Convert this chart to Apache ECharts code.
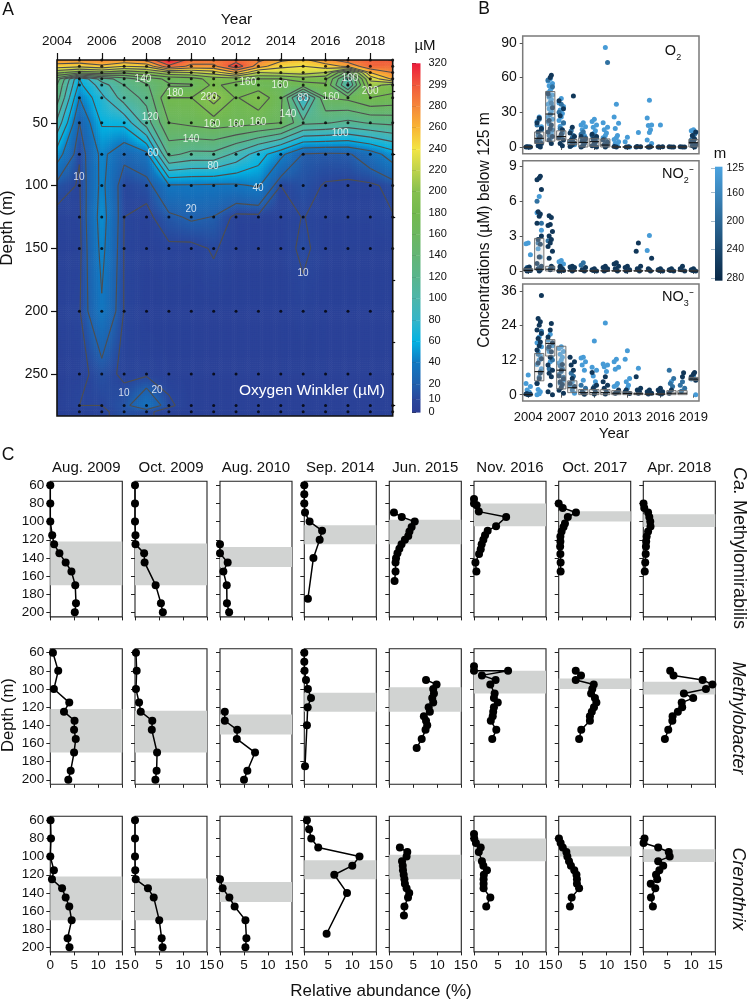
<!DOCTYPE html>
<html>
<head>
<meta charset="utf-8">
<title>Oxygen and methanotrophs</title>
<script src="https://cdn.jsdelivr.net/npm/echarts@6/dist/echarts.min.js"></script>
<style>
  body { margin: 0; background: #fff; }
  #main { width: 747px; height: 1000px; }
</style>
</head>
<body>
<div id="main"></div>
<script>
const FONT = '"Liberation Sans", Arial, sans-serif';

// panel A: oxygen (uM), one row per depth, one column per year
const oxyYears = [2004,2005,2006,2007,2008,2009,2010,2011,2012,2013,2014,2015,2016,2017,2018,2019];
const oxyDepths = [0,5,10,15,20,30,50,75,100,125,150,200,250,275,280,284];
const oxygen = [
  [275,275,280,275,285,322,290,290,290,285,265,255,275,290,295,300],
  [250,245,255,240,245,295,275,275,312,270,245,240,250,265,295,290],
  [205,190,195,185,195,215,220,230,260,220,225,230,220,150,260,280],
  [150,60,110,130,150,165,170,190,190,180,180,190,185,105,225,265],
  [140,55,90,120,138,158,158,185,170,168,165,170,178,95,210,190],
  [130,40,75,110,125,180,180,210,178,195,165,75,160,165,180,175],
  [95,20,62,65,110,160,165,170,168,165,160,125,122,115,122,125],
  [50,10.5,45,25,35,125,115,115,95,70,45,19,17,18,30,50],
  [15,9,45,10.5,14,38,38,37,37,42,10,14,9,8,8,13],
  [7,8,48,10,7,17,22,19.6,7,7,7,10.3,7,7,7,9.5],
  [6,7,45,9.5,6,8,7,11,6,6,6,12,6,6,6,6],
  [6,9,38,9.5,5,5,5,5,5,5,5,7,5,5,5,5],
  [5,7,14,8,8,6,5,5,5,5,5,5,5,5,5,5],
  [5,10,10,15,35,12,5,5,5,5,5,5,5,5,5,5],
  [5,6,8,14,12,6,5,5,5,5,5,5,5,5,5,5],
  [5,6,8,14,12,6,5,5,5,5,5,5,5,5,5,5]
];
const stationYears = oxyYears.slice(1);
const stationDepths = oxyDepths.slice(0, -1);
const contourLevels = [10,20,40,60,80,100,120,140,160,180,200,220,240,260,280,299];
const contourLabels = [
  [2007.84,15.5,'140'],[2009.27,26.6,'180'],[2010.79,29.8,'200'],[2012.53,17.9,'160'],
  [2013.96,20.3,'160'],[2014.99,30.6,'80'],[2016.24,29.8,'160'],[2017.09,14.7,'100'],
  [2017.99,25,'200'],[2014.32,43.3,'140'],[2008.16,45.7,'120'],[2010.93,51.3,'160'],
  [2012,51.3,'160'],[2012.98,49.7,'160'],[2009.99,63.2,'140'],[2016.65,58.4,'100'],
  [2008.29,74.3,'60'],[2010.97,84.6,'80'],[2012.98,102.1,'40'],[2004.98,93.4,'10'],
  [2009.99,118.8,'20'],[2014.99,169.7,'10'],[2006.99,265,'10'],[2008.47,262.7,'20']
];

// colour bar of panel A
const heatLevels = [0,10,20,40,60,80,100,120,140,160,180,200,220,240,260,280,299,320];
const heatColors = ['#2b3c93','#2a479c','#2160ad','#1179c2','#03b2e2','#35b5c9','#4db6aa','#59b58d',
  '#63b575','#6cb760','#73b94f','#86c04f','#bdd24c','#f2e544','#f9b433','#f5873a','#f15a3c','#ec1c3c'];
const heatBarPos = [0,13,28,50,71,92,114,135,157,178,199,221,242,263,285,306,327,349];

// panel B: one list per year, split by rough sampling depth (m)
const boxYears = oxyYears;
const depthLight = 135, depthMid = 190, depthDark = 265;
const o2Light = [[],[26,22,17.5,12,7],[59,57,55,53,51,49,47,45,43,41,39,37,35,33,31,29,26,24,20,12,7],[42,38,35,32,29,26,23,20.5,18,14],[7,4,2],[21,19,17.5,15,10],[24,22,19,17,14,12],[86,21,17,15,12,10,8],[37,26,20.5,16,10,8,6.5,4.5,3,1],[8.5,4.6,0],[12.5],[40.5,25,19,18.5,15,12.5,6,3],[19],[],[],[15,14,12.5,9.5]];
const o2Mid = [[0],[24,19,15,10,4],[58,52,44,38,28,22,15,10],[37,30,21,16,12,9],[14,10,8,5,3,1],[13,11,8,6,4,2],[10,8,6,4,2],[73,7,5,3],[],[],[],[],[],[],[],[11,8,6]];
const o2Dark = [[0,0,0.3,0.1],[25,21,16,13,9,7.5,5,3,1,0],[62,60,46,34,23,19,16,13,9,6,3],[40,33,27,15,11,8,6,3,1],[44,17,12,9,6,4,2,0.5],[9,7,5,3,1,0],[11,9,7,5,3,1,0],[6,4,2,1,0],[0,0.5],[0,0.2],[0,0.2,0.4],[0,0.3,0.1],[0,0.3,0.1],[0,0.2,0.1],[0,0.2,0.1],[13,10,7,5,4,2,1,0]];
const no2Light = [[2.4,2.35,1.4],[6.4,5,3.5,1.9,1.2,0.3],[0.2],[0.9,0.8,0.6],[],[],[],[],[],[],[],[3.05,1.75],[],[],[],[]];
const no2Mid = [[0.3],[6,4.1,2.4],[2.6,0.3],[],[],[0.7,0.5],[],[],[],[],[],[],[],[],[],[]];
const no2Dark = [[0.35,0.25,0.15,0.05,0,0.1],[8.15,8,7.85,7,5.1,4.9,4.7,4.1,3,2.7,2.3,1.2,0.65,0.4,0.2,0.1,0],[4.75,4.6,4,3.9,3.4,3,2.7,2.4,2.1,1.7,1.1,0.4,0.1],[0.4,0.2,0.1,0,0.05,0.3],[0.4,0.35,0.3,0.2,0.1,0],[0.3,0.1,0],[0.2,0.1,0,0.05],[0.4,0.3,0.2,0,0.1],[0.7,0.6,0.4,0.2,0,0.1],[0.4,0.3,0.1,0],[2.4,1.7,0.4,0.2,0,0.1],[1.1,0.2,0,0.1],[0.2,0.1,0,0.05],[0.2,0.1,0,0.05],[0.4,0.2,0,0.1],[0.2,0.1,0,0.05]];
const no3Light = [[6.8,3.9,2.8,1.6,0.8],[20,18,16.6,15,13.5,12,10.5,9,1.8,1,0.3,0],[21,19,17,15,13,11.4],[16.6,16,15,14,13,12,11,5],[4.5,3.3,0.5],[13,12.7,11.4,10.3,8.5,5],[18.6,9.5,8.5,6.5,4.5],[24.9,10.6,10.3,9.7,8],[12.3,11.4,9.5,8.8,3.9,3.3,2.8],[15.2,12.3,5.6,4.5,3.3,2.2],[9.2],[],[],[4.6],[],[6.5,5.4,0]];
const no3Mid = [[],[22,14,8,6,4],[16,12,9],[10,9,8,7,6,4],[7.4,6.4,1.6],[3.3,2.2],[2.8],[],[],[],[],[],[],[8.5,5.6,3.9,2.8],[4.5,3.3,2.2,1.2],[5.6]];
const no3Dark = [[0,0.2,0.1,0.3],[34.4,26.4,25.3,24.1,22.4,21.2,19.5,18.3,17,15.5,12.5,11,7.5,5.5,3.9],[24.7,22.4,20,18,16.6,14.9,13,10.3,8.5,7.4,6.2,3.3,1,0],[10.5,8.5,6.5,5.5,4.5,3.5,2.5,1.5,0.5],[13,11.4,10.3,8.5,5.6,3.9,2.8],[1,0.1,0.6],[7.7,3.3,2.2,1,0.2],[6.2,4.5,3.3,2.2,1,0.2],[1.6,0.5,0.9],[1,0.4,1.6],[6.2,2.2,1.6,1,0.5],[1.6,1,0.5,0.2],[2.2,1.6,1,0.5,0.2],[1.6,0.5],[7.6,6.2],[7.7,7.2,6.2,5]];
// q1, median, q3 per year
const o2Box = [[0,0,0],[3,7.5,13],[5,28.5,48],[6,9,14],[2,4,6.5],[0,4,8],[0.5,4.6,7.5],[0,1.7,7],[0,0,0],[0,0,0],[0,0,0],[0,0,0],[0,0,0],[0,0,0],[0,0,0],[0,3.7,6.6]];
const no2Box = [[0,0.05,0.2],[0.1,0.15,2.8],[0,0.15,0.4],[0,0,0.05],[0,0,0.05],[0,0,0.05],[0,0,0.05],[0,0,0.05],[0,0,0.05],[0,0,0.05],[0,0,0.05],[0,0,0.05],[0,0,0.05],[0,0,0.05],[0,0,0.05],[0,0,0.05]];
const no3Box = [[0,0,0.1],[4.8,8,14.3],[13.4,17.8,19.1],[2,8.5,16.8],[0.7,2.4,4.8],[0,0.7,1.8],[0,0.7,1.8],[0,0.7,1.8],[0,0.5,1.4],[0,0.4,1],[0,0.3,0.6],[0,0.2,0.3],[0,0.2,0.4],[0,0.5,1.4],[0,0.5,1.4],[5,5.4,6]];

// panel C: [abundance %, depth m]
const sampleNames = ['Aug. 2009','Oct. 2009','Aug. 2010','Sep. 2014','Jun. 2015','Nov. 2016','Oct. 2017','Apr. 2018'];
const shadedDepths = [[122,170],[124,170],[128,150],[104,125],[98,125],[80,105],[88.5,100],[92,106]];
const methylomirabilis = [
  [[0,60],[0,80],[0,100],[0.4,115],[0.8,125],[1.9,135],[3.2,145],[4.4,155],[5.2,170],[5.35,190],[5.1,200]],
  [[0,60],[0,80],[0,100],[0.1,115],[0.1,125],[1.9,135],[2,145],[4.3,170],[5.4,190],[5.8,200]],
  [[0,125],[0,135],[1.6,145],[0.7,155],[1.4,170],[1.45,190],[1.9,200]],
  [[0,60],[0,70],[0,80],[0.15,90],[1.1,100],[3.7,110],[3.2,120],[1.9,140],[0.75,185]],
  [[0.97,90],[2.6,95],[5.3,100],[4.65,106],[4.2,111],[3.95,116],[3.25,120],[2.55,125],[2.1,130],[1.7,135],[1.4,140.5],[1.3,145],[1.3,155],[1.1,165.5]],
  [[0,75],[0,80],[0.55,82],[1,89],[6.7,95],[4.6,105],[2.85,110],[2.3,115],[1.95,120],[1.6,125],[1.4,130.5],[1.05,135.7],[0.3,145],[0.5,155]],
  [[0,80],[0.85,85],[3.6,90],[1.9,95],[1.3,102],[1,106],[0.6,111],[0.35,116.5],[0.35,122],[0.3,127.5],[0.35,135.7],[0.4,145],[0.4,155]],
  [[0.05,80],[0.2,85],[1,90],[1.25,95],[1.45,100],[1.5,105.5],[1,111],[0.7,116.5],[0.6,122],[0.55,127.5],[0.5,135.7],[0.4,145],[0.3,155]]
];
const methylobacter = [
  [[0.55,60],[1.65,80],[0.75,100],[3.95,115],[2.85,125],[5.05,135],[4.95,145],[5.3,155],[4.95,170],[4.25,190],[3.75,200]],
  [[0.2,60],[0.35,80],[0.2,100],[0.85,115],[1.2,125],[3.6,135],[3.5,145],[4.6,170],[4.5,190],[4.25,200]],
  [[1,125],[1,135],[3.6,145],[3.5,155],[7.3,170],[5.7,190],[5,200]],
  [[0,60],[0,70],[0.05,80],[0.35,90],[0.75,100],[1.4,110],[0.7,120],[0.55,140],[0.15,185]],
  [[7.65,90],[9.85,95],[9.15,100],[9.3,105],[8.95,110],[9.15,115],[8.2,120],[8.45,125],[7.2,130],[7.65,135],[7.9,140],[7.55,145],[6.75,155],[5.7,165]],
  [[0,75],[0,80],[7.1,80],[1.65,85],[4.5,90],[3.4,95],[4.3,105],[4.15,110],[4.95,115],[4.15,120],[4,125],[3.9,130],[3.5,135],[4.65,145],[3.8,155]],
  [[3.55,80],[4.65,85],[3.55,90],[7.3,95],[7,100],[6.75,105],[7.55,110],[7.85,115],[7.35,120],[6.9,125],[6.5,130],[6.5,135],[4.7,145],[4.25,155]],
  [[5.6,80],[6.3,85],[12.35,90],[14.4,95],[13.05,100],[8.45,105],[10.4,110],[8,115],[8.1,120],[7.2,125],[6.1,130],[6.05,135],[5.2,145],[4.5,155]]
];
const crenothrix = [
  [[0.05,60],[0.15,80],[0,100],[0.75,115],[0.35,125],[2.45,135],[3.2,145],[3.95,155],[4.45,170],[3.6,190],[4,200]],
  [[0,60],[0,80],[0,100],[0.05,115],[0.15,125],[2.7,135],[3.9,145],[5.05,170],[5.55,190],[5.75,200]],
  [[0,125],[0.55,135],[1.95,145],[3.05,155],[5.3,170],[5.5,190],[5.3,200]],
  [[0.55,60],[1,70],[1.45,80],[2.9,90],[11.5,100],[10,110],[6.25,120],[8.9,140],[4.65,185]],
  [[2.2,90],[3.75,95],[3.6,100],[2.65,105],[2.8,110],[2.85,115],[3,120],[3.15,125],[3.25,130],[3.6,135],[4.15,140],[3.9,145],[3.15,155],[3.05,165]],
  [[0,75],[0.05,80],[0.4,85],[1.4,90],[1,95],[1.65,105],[1.95,110],[2.7,115],[2.05,120],[2,125],[2,130],[2,135],[3.4,145],[2.55,155]],
  [[0.05,80],[0.4,85],[0.85,90],[1.6,95],[1.8,100],[2.15,105],[2.55,110],[3.25,115],[3.7,120],[3.8,125],[3.8,130],[4.25,135],[2.7,145],[2.35,155]],
  [[0.25,80],[0.05,85],[3.1,90],[5.3,95],[5.5,100],[3.1,105],[4.15,110],[3.35,115],[2.65,120],[2.9,125],[1.55,130],[2.5,135],[1.6,145],[2,155]]
];

// colour helpers
function hexRgb(h) { return [1,3,5].map(i => parseInt(h.substr(i,2),16)); }
const heatRgb = heatColors.map(hexRgb);
function heatColor(v) {
  let k = 0;
  while (k < heatLevels.length - 2 && v > heatLevels[k+1]) k++;
  const t = Math.max(0, Math.min(1, (v - heatLevels[k]) / (heatLevels[k+1] - heatLevels[k])));
  const a = heatRgb[k], b = heatRgb[k+1];
  return 'rgb(' + Math.round(a[0]+(b[0]-a[0])*t) + ',' + Math.round(a[1]+(b[1]-a[1])*t) + ',' + Math.round(a[2]+(b[2]-a[2])*t) + ')';
}
const shallowRgb = hexRgb('#4ba3e0'), deepRgb = hexRgb('#0b2b4a');
function depthColor(d) {
  const t = (d - 125) / 155;
  return 'rgb(' + [0,1,2].map(i => Math.round(shallowRgb[i] + (deepRgb[i]-shallowRgb[i])*t)).join(',') + ')';
}

const grids = [], xAxes = [], yAxes = [], series = [], texts = [];
const noLine = { show: false };
function addGrid(g) { grids.push(Object.assign({ containLabel: false }, g)); return grids.length - 1; }

// panel A ----------------------------------------------------------------
const gA = addGrid({ left: 57, top: 60, width: 335.7, height: 356, show: false });
const ax = n => xAxes.push(n) - 1, ay = n => yAxes.push(n) - 1;
const blackTick = len => ({ show: true, length: len, lineStyle: { color: '#111', width: 1.2 } });
const xA = ax({ gridIndex: gA, type: 'value', position: 'top', min: 2004, max: 2019, axisLine: noLine, splitLine: noLine,
  axisTick: Object.assign(blackTick(7), { customValues: [2004,2006,2008,2010,2012,2014,2016,2018] }),
  axisLabel: { customValues: [2004,2006,2008,2010,2012,2014,2016,2018], margin: 12, fontSize: 13.5, fontFamily: FONT, color: '#111', formatter: v => String(v) } });
ax({ gridIndex: gA, type: 'value', position: 'top', min: 2004, max: 2019, axisLine: noLine, splitLine: noLine,
  axisTick: Object.assign(blackTick(3), { customValues: [2005,2007,2009,2011,2013,2015,2017] }), axisLabel: { show: false } });
const yA = ay({ gridIndex: gA, type: 'value', inverse: true, min: 0, max: 283.4, axisLine: noLine, splitLine: noLine,
  axisTick: Object.assign(blackTick(6), { customValues: [50,100,150,200,250] }),
  axisLabel: { customValues: [50,100,150,200,250], margin: 9, fontSize: 14, fontFamily: FONT, color: '#111' } });
ay({ gridIndex: gA, type: 'value', inverse: true, min: 0, max: 283.4, axisLine: noLine, splitLine: noLine,
  axisTick: Object.assign(blackTick(2.5), { customValues: [25,75,125,175,225,275] }), axisLabel: { show: false } });

series.push({
  type: 'custom', xAxisIndex: xA, yAxisIndex: yA, silent: true, animation: false, data: [[2004,0]], z: 2, clip: true,
  renderItem(params, api) {
    const kids = [];
    for (let j = 0; j < oxyDepths.length - 1; j++) {
      for (let i = 0; i < oxyYears.length - 1; i++) {
        const p0 = api.coord([oxyYears[i], oxyDepths[j]]), p1 = api.coord([oxyYears[i+1], oxyDepths[j+1]]);
        const w = p1[0] - p0[0], h = p1[1] - p0[1];
        const nx = Math.ceil(w / 2), ny = Math.ceil(h / 2);
        const a = oxygen[j][i], b = oxygen[j][i+1], c = oxygen[j+1][i], d = oxygen[j+1][i+1];
        for (let m = 0; m < ny; m++) {
          const u = (m + 0.5) / ny;
          for (let n = 0; n < nx; n++) {
            const t = (n + 0.5) / nx;
            const v = (a*(1-t) + b*t)*(1-u) + (c*(1-t) + d*t)*u;
            kids.push({ type: 'rect', shape: { x: p0[0] + n*w/nx, y: p0[1] + m*h/ny, width: w/nx + 0.6, height: h/ny + 0.6 }, style: { fill: heatColor(v) } });
          }
        }
      }
    }
    return { type: 'group', children: kids };
  }
});
// contour lines by marching squares over the same table
series.push({
  type: 'custom', xAxisIndex: xA, yAxisIndex: yA, silent: true, animation: false, data: [[2004,0]], z: 3, clip: true,
  renderItem(params, api) {
    const kids = [];
    const cross = (va, vb, pa, pb, lev) => { const t = (lev-va)/(vb-va); return [pa[0]+(pb[0]-pa[0])*t, pa[1]+(pb[1]-pa[1])*t]; };
    contourLevels.forEach(lev => {
      for (let j = 0; j < oxyDepths.length - 1; j++) {
        for (let i = 0; i < oxyYears.length - 1; i++) {
          const q = [[i,j],[i+1,j],[i+1,j+1],[i,j+1]];
          const vals = q.map(c => oxygen[c[1]][c[0]]);
          const pts = q.map(c => api.coord([oxyYears[c[0]], oxyDepths[c[1]]]));
          const hits = [];
          for (let e = 0; e < 4; e++) {
            const f = (e + 1) % 4;
            if ((vals[e] >= lev) !== (vals[f] >= lev)) hits.push(cross(vals[e], vals[f], pts[e], pts[f], lev));
          }
          for (let h = 0; h + 1 < hits.length; h += 2) {
            kids.push({ type: 'polyline', shape: { points: [hits[h], hits[h+1]] }, style: { stroke: '#4e4e4e', lineWidth: 1.1, fill: null } });
          }
        }
      }
    });
    return { type: 'group', children: kids };
  }
});
const stations = [];
stationYears.forEach(y => stationDepths.forEach(d => stations.push([y, d])));
series.push({ type: 'scatter', xAxisIndex: xA, yAxisIndex: yA, data: stations, symbolSize: 3, itemStyle: { color: '#000' }, silent: true, animation: false, z: 4, clip: false });
series.push({ type: 'scatter', xAxisIndex: xA, yAxisIndex: yA, data: contourLabels, symbolSize: 1, itemStyle: { color: 'transparent' }, silent: true, animation: false, z: 5,
  label: { show: true, position: 'inside', formatter: p => p.data[2], color: '#fff', fontSize: 10, fontFamily: FONT } });
// frame on top of the filled field
series.push({ type: 'custom', xAxisIndex: xA, yAxisIndex: yA, silent: true, animation: false, data: [[2004,0]], z: 6, clip: false,
  renderItem(params, api) {
    const a = api.coord([2004,0]), b = api.coord([2019,283.4]);
    return { type: 'rect', shape: { x: a[0], y: a[1], width: b[0]-a[0], height: b[1]-a[1] }, style: { fill: null, stroke: '#111', lineWidth: 1.6 } };
  } });

// colour bar of panel A
const gBar = addGrid({ left: 412, top: 63.3, width: 8.5, height: 349, show: false });
const xBar = ax({ gridIndex: gBar, type: 'value', min: 0, max: 1, show: false });
const yBar = ay({ gridIndex: gBar, type: 'value', position: 'right', min: 0, max: 349, axisLine: noLine, splitLine: noLine,
  axisTick: { show: true, length: 4, customValues: heatBarPos, lineStyle: { color: '#333', width: 1 } },
  axisLabel: { customValues: heatBarPos, margin: 8, fontSize: 11, fontFamily: FONT, color: '#111', formatter: v => String(heatLevels[heatBarPos.indexOf(v)]) } });
series.push({ type: 'custom', xAxisIndex: xBar, yAxisIndex: yBar, silent: true, animation: false, data: heatBarPos.slice(0,-1).map((p,i) => [i, p]),
  renderItem(params, api) {
    const i = params.dataIndex;
    const a = api.coord([0, heatBarPos[i]]), b = api.coord([1, heatBarPos[i+1]]);
    return { type: 'rect', shape: { x: a[0], y: b[1], width: b[0]-a[0], height: a[1]-b[1] + 0.3 },
      style: { fill: new echarts.graphic.LinearGradient(0,1,0,0,[{offset:0,color:heatColors[i]},{offset:1,color:heatColors[i+1]}]) } };
  } });

// panel B ----------------------------------------------------------------
const swarmOffsets = [0,-0.2,0.2,-0.1,0.1];
function swarm(light, mid, dark) {
  const pts = [];
  boxYears.forEach((y, k) => {
    let n = 0;
    [[light[k],depthLight],[mid[k],depthMid],[dark[k],depthDark]].forEach(set => {
      set[0].forEach(v => { pts.push([y + swarmOffsets[n++ % 5], v, set[1]]); });
    });
  });
  return pts;
}
const yearTicks = [2004,2007,2010,2013,2016,2019];
const panelsB = [
  { top: 36, height: 117.7, min: -5.8, max: 96, ticks: [0,30,60,90], pts: swarm(o2Light,o2Mid,o2Dark), box: o2Box },
  { top: 160.7, height: 117.6, min: -0.63, max: 9.48, ticks: [0,3,6,9], pts: swarm(no2Light,no2Mid,no2Dark), box: no2Box },
  { top: 284, height: 117, min: -2.2, max: 38.4, ticks: [0,12,24,36], pts: swarm(no3Light,no3Mid,no3Dark), box: no3Box }
];
panelsB.forEach((pb, idx) => {
  const g = addGrid({ left: 522.7, top: pb.top, width: 176.3, height: pb.height, show: true, borderColor: '#7a7a7a', borderWidth: 1.5 });
  const xi = ax({ gridIndex: g, type: 'value', min: 2003.5, max: 2019.5, axisLine: noLine, splitLine: noLine,
    axisTick: { show: true, length: 3, customValues: yearTicks, lineStyle: { color: '#555' } },
    axisLabel: idx === 2 ? { customValues: yearTicks, margin: 10, fontSize: 13, fontFamily: FONT, color: '#111', formatter: v => String(v) } : { show: false } });
  const yi = ay({ gridIndex: g, type: 'value', min: pb.min, max: pb.max, axisLine: noLine, splitLine: noLine,
    axisTick: { show: true, length: 3, customValues: pb.ticks, lineStyle: { color: '#555' } },
    axisLabel: { customValues: pb.ticks, margin: 6, fontSize: 14, fontFamily: FONT, color: '#111' } });
  series.push({ type: 'scatter', xAxisIndex: xi, yAxisIndex: yi, data: pb.pts, symbolSize: 5, silent: true, animation: false, z: 2,
    itemStyle: { color: p => depthColor(p.data[2]), opacity: 1 } });
  series.push({ type: 'custom', xAxisIndex: xi, yAxisIndex: yi, silent: true, animation: false, z: 3,
    data: pb.box.map((b, k) => [boxYears[k], b[0], b[1], b[2]]),
    renderItem(params, api) {
      const y = api.value(0), hw = 0.42;
      const a = api.coord([y - hw, api.value(3)]), b = api.coord([y + hw, api.value(1)]), m = api.coord([y, api.value(2)]);
      return { type: 'group', children: [
        { type: 'rect', shape: { x: a[0], y: a[1], width: b[0]-a[0], height: b[1]-a[1] }, style: { fill: 'rgba(205,205,205,0.28)', stroke: '#666', lineWidth: 0.9 } },
        { type: 'line', shape: { x1: a[0], y1: m[1], x2: b[0], y2: m[1] }, style: { stroke: '#111', lineWidth: 1.1 } }
      ] };
    } });
});
// colour bar of panel B
const gBarB = addGrid({ left: 715, top: 166.7, width: 10, height: 114, show: false });
const xBarB = ax({ gridIndex: gBarB, type: 'value', min: 0, max: 1, show: false });
const depthTicks = [125,160,200,240,280];
const yBarB = ay({ gridIndex: gBarB, type: 'value', position: 'right', inverse: true, min: 123.5, max: 284, axisLine: noLine, splitLine: noLine,
  axisTick: { show: true, inside: true, length: 4, customValues: depthTicks, lineStyle: { color: '#a9bccb', width: 1 } },
  axisLabel: { customValues: depthTicks, margin: 4, fontSize: 10.5, fontFamily: FONT, color: '#111' } });
series.push({ type: 'custom', xAxisIndex: xBarB, yAxisIndex: yBarB, silent: true, animation: false, z: 1, data: [[0,125]],
  renderItem(params, api) {
    const a = api.coord([0,123.5]), b = api.coord([1,284]);
    return { type: 'rect', shape: { x: a[0], y: a[1], width: b[0]-a[0], height: b[1]-a[1] },
      style: { fill: new echarts.graphic.LinearGradient(0,0,0,1,[{offset:0,color:depthColor(125)},{offset:1,color:depthColor(284)}]) } };
  } });

// panel C ----------------------------------------------------------------
const columnLefts = [50.3,135,220,304.3,389.3,474,558.7,643.3];
const rowTops = [481.3,648.7,816.3];
const depthAxisTicks = [60,80,100,120,140,160,180,200];
[methylomirabilis, methylobacter, crenothrix].forEach((taxon, r) => {
  taxon.forEach((profile, c) => {
    const g = addGrid({ left: columnLefts[c], top: rowTops[r], width: 72, height: 135.6, show: true, borderColor: '#222', borderWidth: 1.1 });
    const xi = ax({ gridIndex: g, type: 'value', min: 0, max: 15, interval: 5, axisLine: noLine, splitLine: noLine,
      axisTick: { show: true, length: 3.5, lineStyle: { color: '#222' } },
      axisLabel: r === 2 ? { margin: 6, fontSize: 13.5, fontFamily: FONT, color: '#111' } : { show: false } });
    const yi = ay({ gridIndex: g, type: 'value', inverse: true, min: 55.6, max: 205, axisLine: noLine, splitLine: noLine,
      axisTick: { show: true, length: 4, customValues: depthAxisTicks, lineStyle: { color: '#222' } },
      axisLabel: c === 0 ? { customValues: depthAxisTicks, margin: 6, fontSize: 13.5, fontFamily: FONT, color: '#111' } : { show: false } });
    series.push({ type: 'line', xAxisIndex: xi, yAxisIndex: yi, data: profile, symbol: 'circle', symbolSize: 8, showSymbol: true, clip: false,
      silent: true, animation: false, lineStyle: { color: '#000', width: 1.5 }, itemStyle: { color: '#000' }, z: 3,
      markArea: { silent: true, itemStyle: { color: '#d1d3d2' }, z: 1, data: [[{ yAxis: shadedDepths[c][0] }, { yAxis: shadedDepths[c][1] }]] } });
  });
});

// text -------------------------------------------------------------------
function txt(x, y, text, size, extra) {
  const st = Object.assign({ text: text, font: size + 'px ' + FONT, fill: '#111', align: 'center', verticalAlign: 'middle' }, extra && extra.style);
  texts.push({ type: 'text', x: x, y: y, rotation: (extra && extra.rotation) || 0, silent: true, z: 20, style: st });
}
txt(8, 10, 'A', 17.5); txt(484, 9, 'B', 17.5); txt(8, 455, 'C', 17.5);
txt(236.5, 20, 'Year', 15.5);
txt(7, 228, 'Depth (m)', 17, { rotation: Math.PI/2 });
txt(312, 391, 'Oxygen Winkler (µM)', 15.5, { style: { fill: '#fff' } });
txt(425, 46, 'µM', 15);
txt(720, 154, 'm', 15);
txt(485, 230, 'Concentrations (µM) below 125 m', 15.7, { rotation: Math.PI/2 });
txt(614, 434, 'Year', 15);
const chemRich = { s: { fontSize: 9, fontFamily: FONT, fill: '#111', verticalAlign: 'bottom', lineHeight: 22 }, n: { fontSize: 14.5, fontFamily: FONT, fill: '#111', lineHeight: 22 } };
txt(673, 51, '{n|O}{s|2}', 14.5, { style: { rich: chemRich } });
txt(678, 174, '{n|NO}{s|2}{n|⁻}', 14.5, { style: { rich: chemRich } });
txt(678, 297, '{n|NO}{s|3}{n|⁻}', 14.5, { style: { rich: chemRich } });
sampleNames.forEach((n, c) => txt(columnLefts[c] + 36, 467.5, n, 15));
txt(8, 715, 'Depth (m)', 16.6, { rotation: Math.PI/2 });
txt(381, 991, 'Relative abundance (%)', 17);
const italicFont = 'italic 18px ' + FONT;
txt(739, 548, '{i|Ca.} {r|Methylomirabilis}', 18, { rotation: -Math.PI/2, style: { rich: { i: { font: italicFont, fill: '#111' }, r: { font: '18px ' + FONT, fill: '#111' } } } });
txt(738, 718, 'Methylobacter', 18, { rotation: -Math.PI/2, style: { font: italicFont } });
txt(738, 889, 'Crenothrix', 18, { rotation: -Math.PI/2, style: { font: italicFont } });

const chart = echarts.init(document.getElementById('main'), null, { renderer: 'canvas' });
chart.setOption({
  animation: false,
  backgroundColor: '#fff',
  textStyle: { fontFamily: FONT },
  grid: grids,
  xAxis: xAxes,
  yAxis: yAxes,
  series: series,
  graphic: { elements: texts }
});
</script>
</body>
</html>
